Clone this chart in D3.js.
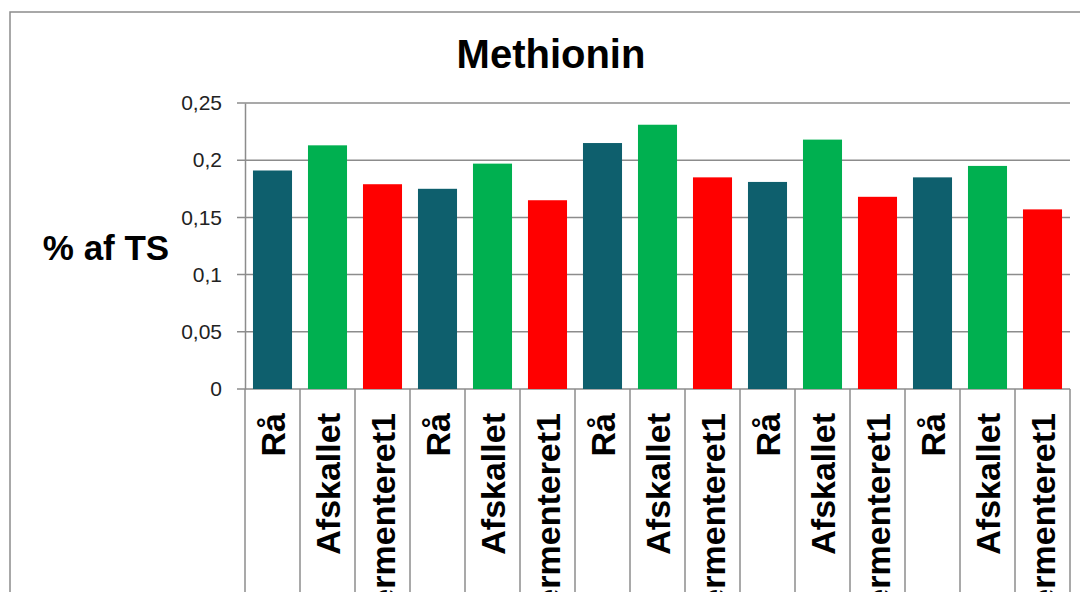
<!DOCTYPE html>
<html>
<head>
<meta charset="utf-8">
<script src="https://cdn.jsdelivr.net/npm/d3@7/dist/d3.min.js"></script>
<style>
  body { margin: 0; background: #fff; }
  text { font-family: "Liberation Sans", Arial, sans-serif; }
</style>
</head>
<body>
<svg></svg>
<script>
var screen = {width:1080, height:592}
var plot = {left:245, right:1070, top:103, bottom:389}

// data
var categories = ["Rå","Afskallet","Fermenteret1",
                  "Rå","Afskallet","Fermenteret1",
                  "Rå","Afskallet","Fermenteret1",
                  "Rå","Afskallet","Fermenteret1",
                  "Rå","Afskallet","Fermenteret1"]
var values = [0.191, 0.213, 0.179,
              0.175, 0.197, 0.165,
              0.215, 0.231, 0.185,
              0.181, 0.218, 0.168,
              0.185, 0.195, 0.157]
var yTicks = [0, 0.05, 0.1, 0.15, 0.2, 0.25]
var seriesColors = {"Rå":"#0e5f6d", "Afskallet":"#00b050", "Fermenteret1":"#ff0000"}

var svg = d3.select("svg")
  .attr("width", screen.width)
  .attr("height", screen.height)

// outer chart border
svg.append("rect")
  .attr("x", 10).attr("y", 12)
  .attr("width", 1100).attr("height", 700)
  .attr("fill", "#fff")
  .attr("stroke", "#8c8c8c")
  .attr("stroke-width", 1.5)

var xScale = d3.scaleBand()
  .domain(d3.range(categories.length))
  .range([plot.left, plot.right])
  .paddingInner(0.29)
  .paddingOuter(0.145)

var yScale = d3.scaleLinear()
  .domain([0, 0.25])
  .range([plot.bottom, plot.top])

// gridlines
svg.append("g")
  .selectAll("line")
  .data(yTicks)
  .enter()
  .append("line")
  .attr("x1", plot.left - 8)
  .attr("x2", plot.right)
  .attr("y1", function(d){ return yScale(d) })
  .attr("y2", function(d){ return yScale(d) })
  .attr("stroke", "#8c8c8c")
  .attr("stroke-width", 1.5)

// y axis
var yAxis = d3.axisLeft(yScale)
  .tickValues(yTicks)
  .tickSize(0)
  .tickPadding(23)
  .tickFormat(function(d){ return String(d).replace(".", ",") })

svg.append("g")
  .attr("transform", "translate(" + plot.left + ",0)")
  .call(yAxis)
  .call(function(g){
    g.select(".domain").attr("stroke", "#8c8c8c").attr("stroke-width", 1.5)
    g.selectAll("text")
      .attr("font-size", 21)
      .attr("fill", "#222")
      .attr("font-family", "Liberation Sans, Arial, sans-serif")
  })

// category separators running down through the label area
var edges = d3.range(categories.length + 1).map(function(i){
  return plot.left + i * xScale.step()
})
svg.append("g")
  .selectAll("line")
  .data(edges)
  .enter()
  .append("line")
  .attr("x1", function(d){ return d })
  .attr("x2", function(d){ return d })
  .attr("y1", plot.bottom)
  .attr("y2", screen.height + 10)
  .attr("stroke", "#8c8c8c")
  .attr("stroke-width", 1.5)

// bars
svg.append("g")
  .selectAll("rect")
  .data(values)
  .enter()
  .append("rect")
  .attr("x", function(d, i){ return xScale(i) })
  .attr("width", xScale.bandwidth())
  .attr("y", function(d){ return yScale(d) })
  .attr("height", function(d){ return yScale(0) - yScale(d) })
  .attr("fill", function(d, i){ return seriesColors[categories[i]] })

// x labels, rotated
svg.append("g")
  .selectAll("text")
  .data(categories)
  .enter()
  .append("text")
  .attr("transform", function(d, i){
    return "translate(" + (xScale(i) + xScale.bandwidth() / 2) + "," + (plot.bottom + 24) + ") rotate(-90)"
  })
  .attr("text-anchor", "end")
  .attr("dy", "0.36em")
  .attr("font-size", 34)
  .attr("font-weight", "bold")
  .attr("fill", "#000")
  .text(function(d){ return d })

// title
svg.append("text")
  .attr("x", 551).attr("y", 68)
  .attr("text-anchor", "middle")
  .attr("font-size", 40)
  .attr("font-weight", "bold")
  .text("Methionin")

// y axis title
svg.append("text")
  .attr("x", 106).attr("y", 260)
  .attr("text-anchor", "middle")
  .attr("font-size", 35)
  .attr("font-weight", "bold")
  .text("% af TS")
</script>
</body>
</html>
